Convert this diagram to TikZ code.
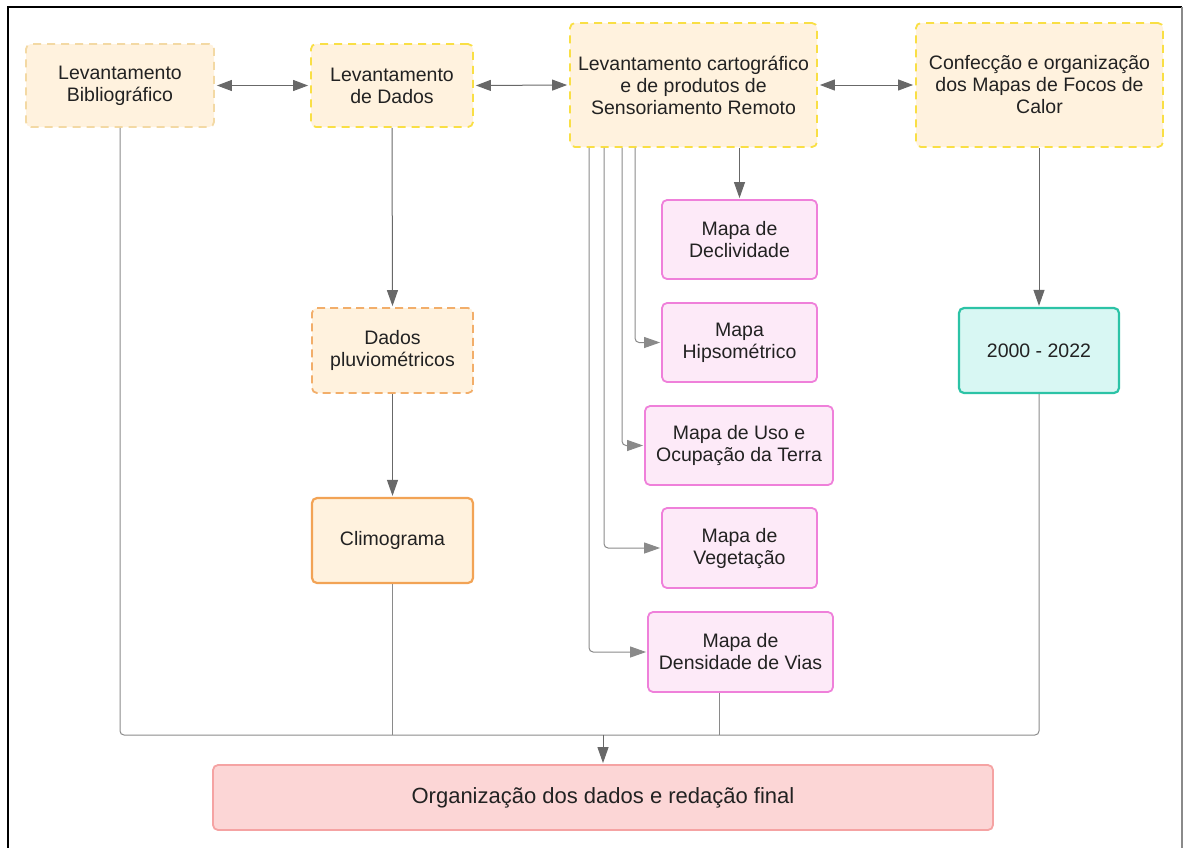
\documentclass[tikz,border=0pt]{standalone}
\usepackage{fontspec}
\setmainfont{Liberation Sans}
\usetikzlibrary{arrows.meta,calc}
\definecolor{beige}{HTML}{FFF2DE}
\definecolor{ylw}{HTML}{F9DF45}
\definecolor{ylwpale}{HTML}{F3D9A4}
\definecolor{orgdash}{HTML}{F2AE6A}
\definecolor{orgsolid}{HTML}{F2A355}
\definecolor{pinkfill}{HTML}{FDEAF8}
\definecolor{pinkline}{HTML}{EF80DA}
\definecolor{tealfill}{HTML}{D8F7F3}
\definecolor{tealline}{HTML}{2CC3A6}
\definecolor{redfill}{HTML}{FCD6D6}
\definecolor{redline}{HTML}{F5A3A3}
\definecolor{txt}{HTML}{222222}
\definecolor{conn}{HTML}{8A8A8A}
\definecolor{tipc}{HTML}{686868}
\begin{document}
\begin{tikzpicture}[x=1pt,y=-1pt,
  box/.style={rectangle, rounded corners=5pt, align=center, text=txt,
    font=\fontsize{19.5}{22}\selectfont, inner sep=0pt, line width=1.8pt},
  ydash/.style={box, fill=beige, draw=ylw, dash pattern=on 8pt off 6pt},
  ypale/.style={box, fill=beige, draw=ylwpale, dash pattern=on 8pt off 6pt},
  odash/.style={box, fill=beige, draw=orgdash, dash pattern=on 8pt off 5pt},
  osolid/.style={box, fill=beige, draw=orgsolid, line width=2.2pt},
  pinkbox/.style={box, fill=pinkfill, draw=pinkline},
  tealbox/.style={box, fill=tealfill, draw=tealline, line width=2.2pt},
  redbox/.style={box, fill=redfill, draw=redline, font=\fontsize{22}{26}\selectfont},
  link/.style={draw=conn, line width=1pt, rounded corners=4pt},
  arr/.style={link, draw=tipc, -{Triangle[length=16pt,width=11pt]}, shorten >=1pt},
  biarr/.style={link, draw=tipc, {Triangle[length=15pt,width=11pt]}-{Triangle[length=15pt,width=11pt]}, shorten >=2pt, shorten <=2pt}
]
\useasboundingbox (0,0) rectangle (1183,847);
% frame
\draw[black, line width=2pt] (8,850) -- (8,7) -- (1182,7);
\draw[conn, line width=2pt] (1182,7) -- (1182,850);

% top row
\node[ypale, minimum width=188pt, minimum height=83pt] (lb) at (120,85.5) {Levantamento\\Bibliográfico};
\node[ydash, minimum width=162pt, minimum height=83pt] (ld) at (392,85.5) {Levantamento\\de Dados};
\node[ydash, minimum width=247pt, minimum height=124pt] (lc) at (693.5,85) {Levantamento cartográfico\\e de produtos de\\Sensoriamento Remoto};
\node[ydash, minimum width=247pt, minimum height=124pt] (co) at (1039.5,85) {Confecção e organização\\dos Mapas de Focos de\\Calor};

% maps
\node[pinkbox, minimum width=155pt, minimum height=79pt] (decl) at (739.5,239.5) {Mapa de\\Declividade};
\node[pinkbox, minimum width=155pt, minimum height=79pt] (hips) at (739.5,342.5) {Mapa\\Hipsométrico};
\node[pinkbox, minimum width=188pt, minimum height=79pt] (uso) at (739,445.5) {Mapa de Uso e\\Ocupação da Terra};
\node[pinkbox, minimum width=155pt, minimum height=80pt] (veg) at (739.5,548) {Mapa de\\Vegetação};
\node[pinkbox, minimum width=185pt, minimum height=80pt] (dens) at (740.5,652) {Mapa de\\Densidade de Vias};

% data column
\node[odash, minimum width=161pt, minimum height=85pt] (pluv) at (392.5,350.5) {Dados\\pluviométricos};
\node[osolid, minimum width=161pt, minimum height=85pt] (clim) at (392.5,540.5) {Climograma};

% years
\node[tealbox, minimum width=160pt, minimum height=85pt] (yrs) at (1039,350.5) {2000 - 2022};

% final
\node[redbox, minimum width=780pt, minimum height=65pt] (org) at (603,797.5) {Organização dos dados e redação final};

\coordinate (bus) at (603,735);

% horizontal links
\draw[biarr] (lb.east) -- (ld.west);
\draw[biarr] (ld.east) -- (lc.west);
\draw[biarr] (lc.east) -- (co.west);

% vertical links
\draw[arr] (ld.south) -- (pluv.north);
\draw[arr] (pluv.south) -- (clim.north);
\draw[arr] (decl.north |- lc.south) -- (decl.north);
\draw[arr] (co.south -| yrs.north) -- (yrs.north);

% branches from cartographic box
\draw[arr, draw=conn] ($(lc.south west)+(66,0)$) |- (hips.west);
\draw[arr, draw=conn] ($(lc.south west)+(53,0)$) |- (uso.west);
\draw[arr, draw=conn] ($(lc.south west)+(35,0)$) |- (veg.west);
\draw[arr, draw=conn] ($(lc.south west)+(20,0)$) |- (dens.west);

% bus to final
\draw[link] (lb.south) |- (bus);
\draw[link] (yrs.south) |- (bus);
\draw[link] (clim.south) -- (clim.south |- bus);
\draw[link] ([xshift=-21.5pt]dens.south) -- ([xshift=-21.5pt]dens.south |- bus);
\draw[arr] (bus) -- (org.north);
\end{tikzpicture}
\end{document}
